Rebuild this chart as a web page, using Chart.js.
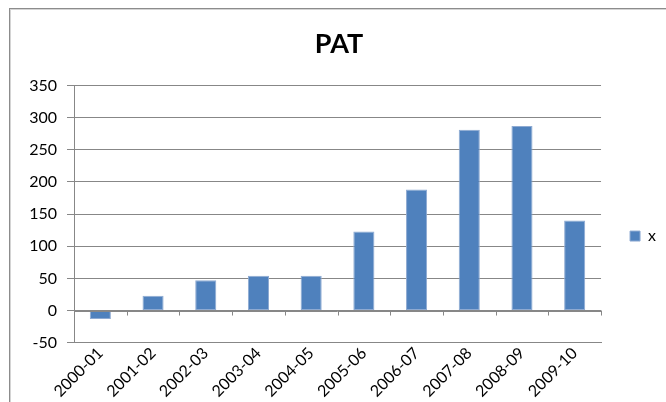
<!DOCTYPE html>
<html>
<head>
<meta charset="utf-8">
<script src="https://cdn.jsdelivr.net/npm/chart.js@4/dist/chart.umd.min.js"></script>
<style>
  html, body { margin: 0; padding: 0; background: #ffffff; overflow: hidden; }
  #wrap { position: relative; width: 666px; height: 402px; }
  #frame { position: absolute; left: 9px; top: 8px; width: 700px; height: 420px;
           border-left: 1px solid #8c8c8c; border-top: 1px solid #8c8c8c;
           box-shadow: inset 1px 1px 0 #d4d4d4; }
  canvas { position: absolute; left: 0; top: 0; }
</style>
</head>
<body>
<div id="wrap">
  <div id="frame"></div>
  <canvas id="c" width="666" height="402"></canvas>
</div>
<script>
const categories = ["2000-01","2001-02","2002-03","2003-04","2004-05","2005-06","2006-07","2007-08","2008-09","2009-10"];
const seriesName = "x";
const patValues = [-13, 23, 47, 54, 54, 123, 188, 281, 287, 140];
const yMin = -50, yMax = 350, yStep = 50;
const chartTitle = "PAT";

const FONT = "Lato, 'Open Sans', 'DejaVu Sans', sans-serif";
const GRID = "#878787";

const zeroAxisTicks = {
  id: "zeroAxisTicks",
  afterDatasetsDraw(chart) {
    const xs = chart.scales.x, ys = chart.scales.y;
    const y0 = ys.getPixelForValue(0);
    const ctx = chart.ctx;
    ctx.save();
    ctx.strokeStyle = GRID;
    ctx.lineWidth = 1;
    ctx.beginPath();
    ctx.moveTo(xs.left, Math.round(y0) + 0.5);
    ctx.lineTo(xs.right, Math.round(y0) + 0.5);
    for (let i = 1; i <= categories.length; i++) {
      const x = Math.round(xs.getPixelForValue(i - 0.5)) + 0.5;
      ctx.moveTo(x, y0);
      ctx.lineTo(x, y0 + 5);
    }
    ctx.stroke();
    ctx.restore();
  }
};

new Chart(document.getElementById("c"), {
  type: "bar",
  data: {
    labels: categories,
    datasets: [{
      label: seriesName,
      data: patValues,
      backgroundColor: "#4f81bd",
      borderColor: "#8eaad2",
      borderWidth: 1,
      borderSkipped: false,
      barPercentage: 0.4,
      categoryPercentage: 1.0
    }]
  },
  options: {
    responsive: false,
    animation: false,
    devicePixelRatio: 1,
    layout: { padding: { left: 12, right: 0, top: 8, bottom: 0 } },
    plugins: {
      title: {
        display: true,
        text: chartTitle,
        color: "#000000",
        font: { family: FONT, size: 27, weight: "bold" },
        padding: { top: 20, bottom: 25 }
      },
      legend: {
        display: true,
        position: "right",
        fullSize: false,
        align: "center",
        title: {
          display: true,
          text: "",
          font: { family: FONT, size: 16 },
          padding: 12.4
        },
        labels: {
          color: "#000000",
          font: { family: FONT, size: 16 },
          boxWidth: 10,
          boxHeight: 10,
          padding: 29
        }
      },
      tooltip: { enabled: false }
    },
    scales: {
      x: {
        grid: { display: false },
        border: { display: true, color: GRID },
        ticks: {
          color: "#000000",
          font: { family: FONT, size: 16 },
          maxRotation: 45,
          minRotation: 45,
          padding: -7,
          autoSkip: false
        },
        afterFit(scale) { scale.height = 59.3; }
      },
      y: {
        min: yMin,
        max: yMax,
        grid: { color: GRID, tickLength: 7, tickColor: GRID },
        border: { display: true, color: GRID },
        ticks: {
          stepSize: yStep,
          color: "#000000",
          font: { family: FONT, size: 16 },
          padding: 10
        },
        afterFit(scale) { scale.width = 62; }
      }
    }
  },
  plugins: [zeroAxisTicks]
});
</script>
</body>
</html>
